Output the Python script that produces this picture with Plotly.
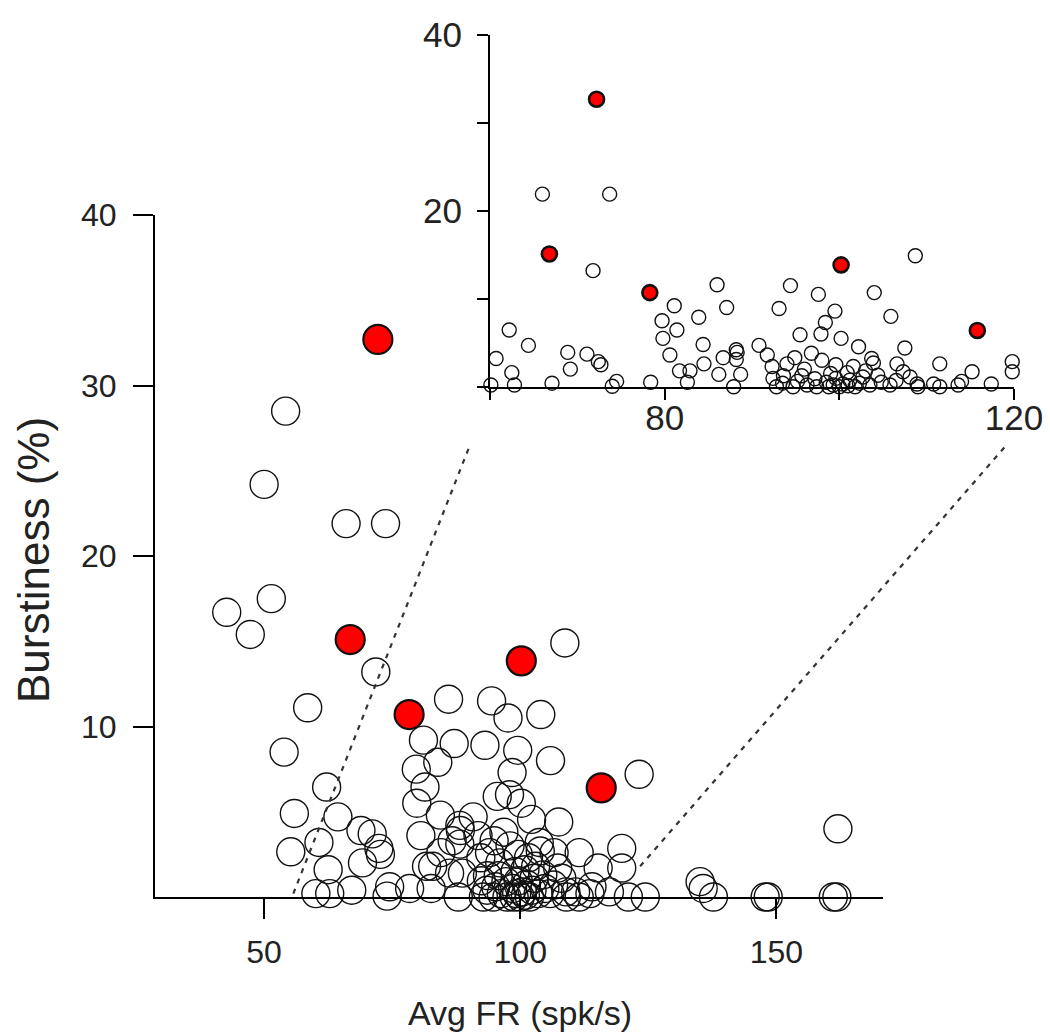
import numpy as np
import plotly.graph_objects as go

# ---------------- data ----------------
red_fr = [72.2, 66.8, 78.3, 100.2, 115.8]
red_burst = [32.7, 15.1, 10.7, 13.85, 6.4]

open_fr = [
    42.7, 47.3, 50.0, 51.4, 54.2, 53.9, 55.9, 55.2, 58.5,
    60.1, 60.7, 62.2, 62.5, 62.8, 64.4, 66.0, 73.7, 71.8, 67.1,
    68.9, 69.2, 71.1, 72.4, 72.7, 74.0, 74.5, 78.4, 79.7, 79.8,
    81.1, 81.4, 80.6, 83.9, 84.4, 81.7, 82.9, 82.6, 84.5, 86.0,
    87.1, 86.2, 86.7, 88.2, 88.3, 88.2, 88.7, 87.9,
    94.4, 97.6, 104.0, 108.7, 93.1, 99.5, 105.9, 98.4, 97.9, 95.5,
    100.2, 102.2, 107.5, 90.8, 91.75, 94.9, 98.0, 92.3, 103.7, 103.9,
    106.6, 111.5, 99.6, 101.6, 107.3, 115.2, 119.8, 119.8, 92.4, 93.6,
    95.7, 97.2, 99.6, 101.2, 102.7, 104.4, 108.1, 92.8, 94.7, 97.4,
    99.3, 101.8, 105.8, 108.9, 109.0, 110.8, 111.5, 113.6, 114.0, 117.4,
    93.5, 95.2, 96.3, 98.5, 100.4, 100.9, 102.3, 103.5, 96.0, 99.0,
    104.8, 98.8, 100.0, 101.0, 103.0, 106.5, 94.0, 96.8,
    123.2, 121.1, 124.4, 135.1, 135.7, 137.7, 147.8, 148.4, 161.1, 161.8, 162.0,
]
open_burst = [
    16.7, 15.4, 24.2, 17.5, 28.5, 8.5, 4.9, 2.65, 11.1,
    0.2, 3.2, 6.45, 1.6, 0.2, 4.7, 21.9, 21.9, 13.2, 0.4,
    3.9, 2.0, 3.7, 2.85, 2.5, 0.05, 0.6, 0.5, 7.5, 5.5,
    9.2, 6.45, 3.6, 7.9, 4.8, 1.8, 1.8, 0.5, 2.6, 11.6,
    9.0, 1.4, 3.3, 4.2, 3.9, 3.1, 1.4, 0.0,
    11.5, 10.5, 10.7, 14.9, 8.9, 8.6, 8.0, 7.3, 6.0, 5.9,
    5.5, 4.55, 4.4, 4.7, 3.6, 3.3, 3.0, 2.3, 3.2, 2.7,
    2.6, 2.6, 2.5, 2.3, 1.7, 1.7, 2.85, 1.7, 0.95, 1.25,
    1.25, 0.9, 0.95, 0.75, 1.1, 1.3, 1.1, 0.0, 0.0, 0.0,
    0.2, 0.0, 0.2, 0.3, 0.0, 0.3, 0.0, 0.2, 0.6, 0.3,
    0.4, 0.6, 0.2, 0.5, 0.3, 1.6, 0.4, 0.2, 2.0, 1.5,
    0.5, 0.0, 0.0, 0.1, 1.8, 0.7, 2.6, 3.8,
    7.2, 0.0, 0.0, 0.9, 0.5, 0.0, 0.0, 0.0, 0.0, 0.0, 4.0,
]

main_xticks = [50, 100, 150]
main_yticks = [10, 20, 30, 40]
inset_xticks = [60, 80, 100, 120]
inset_xticktext = ["", "80", "", "120"]
inset_yticks = [0, 10, 20, 30, 40]
inset_yticktext = ["", "", "20", "", "40"]

# zoom guide lines: lower ends in main-axis units, upper ends in inset-axis units
guide_low = [(55.7, 0.2), (123.4, 1.8)]
guide_high = [(57.6, -6.9), (118.9, -6.9)]

# ---------------- layout geometry ----------------
W, H = 1050, 1035
MAIN_X = [28.7, 170.8]
MAIN_Y = [0, 40]
INS_X = [60, 120]
INS_Y = [0, 40]
main_dx = [155 / W, 883 / W]
main_dy = [1 - 897 / H, 1 - 215 / H]
ins_dx = [490 / W, 1014 / W]
ins_dy = [1 - 386.7 / H, 1 - 35 / H]


def to_paper(v, rng, dom):
    return dom[0] + (v - rng[0]) / (rng[1] - rng[0]) * (dom[1] - dom[0])


FONT = "Liberation Sans, Arial, sans-serif"

fig = go.Figure()

# main panel
fig.add_trace(go.Scatter(
    x=open_fr, y=open_burst, mode="markers", xaxis="x", yaxis="y",
    marker=dict(size=28, color="rgba(0,0,0,0)", line=dict(color="#111", width=1.4)),
    cliponaxis=False, showlegend=False))
fig.add_trace(go.Scatter(
    x=red_fr, y=red_burst, mode="markers", xaxis="x", yaxis="y",
    marker=dict(size=29, color="#ff0000", line=dict(color="#111", width=2.2)),
    cliponaxis=False, showlegend=False))

# inset panel (same data, zoomed)
ofr = np.array(open_fr)
obu = np.array(open_burst)
m = (ofr >= INS_X[0]) & (ofr <= INS_X[1])
fig.add_trace(go.Scatter(
    x=ofr[m], y=obu[m], mode="markers", xaxis="x2", yaxis="y2",
    marker=dict(size=14, color="rgba(0,0,0,0)", line=dict(color="#111", width=1.4)),
    cliponaxis=False, showlegend=False))
fig.add_trace(go.Scatter(
    x=red_fr, y=red_burst, mode="markers", xaxis="x2", yaxis="y2",
    marker=dict(size=15, color="#ff0000", line=dict(color="#111", width=2.6)),
    cliponaxis=False, showlegend=False))

shapes = []
for (lx, ly), (hx, hy) in zip(guide_low, guide_high):
    shapes.append(dict(
        type="line", xref="paper", yref="paper",
        x0=to_paper(lx, MAIN_X, main_dx), y0=to_paper(ly, MAIN_Y, main_dy),
        x1=to_paper(hx, INS_X, ins_dx), y1=to_paper(hy, INS_Y, ins_dy),
        line=dict(color="#333", width=2.2, dash="5px,6px")))

axis_common = dict(showgrid=False, zeroline=False, showline=True, linecolor="black",
                   linewidth=2, ticks="outside", tickcolor="black", tickwidth=2,
                   automargin=False, fixedrange=True)
main_font = dict(family=FONT, size=32, color="#222")
inset_font = dict(family=FONT, size=35, color="#222")

fig.update_layout(
    width=W, height=H, margin=dict(l=0, r=0, t=0, b=0, pad=0, autoexpand=False),
    autosize=False,
    paper_bgcolor="white", plot_bgcolor="rgba(0,0,0,0)",
    xaxis=dict(domain=main_dx, range=MAIN_X, tickvals=main_xticks, ticklen=20,
               ticklabelstandoff=6, anchor="y", tickfont=main_font, **axis_common),
    yaxis=dict(domain=main_dy, range=MAIN_Y, tickvals=main_yticks, ticklen=20,
               ticklabelstandoff=10, anchor="x", tickfont=main_font, **axis_common),
    xaxis2=dict(domain=ins_dx, range=INS_X, tickvals=inset_xticks, ticktext=inset_xticktext,
                ticklen=11, ticklabelstandoff=-12, anchor="y2", tickfont=inset_font, **axis_common),
    yaxis2=dict(domain=ins_dy, range=INS_Y, tickvals=inset_yticks, ticktext=inset_yticktext,
                ticklen=11, ticklabelstandoff=8, anchor="x2", tickfont=inset_font, **axis_common),
    shapes=shapes,
    annotations=[
        dict(text="Avg FR (spk/s)", xref="paper", yref="paper",
             x=to_paper(100, MAIN_X, main_dx), y=1 - 1013 / H, xanchor="center", yanchor="middle",
             showarrow=False, font=dict(family=FONT, size=34, color="#222")),
        dict(text="Burstiness (%)", xref="paper", yref="paper", textangle=-90,
             x=33 / W, y=1 - 560 / H, xanchor="center", yanchor="middle",
             showarrow=False, font=dict(family=FONT, size=44, color="#222")),
    ],
)

fig.write_html(
    "out.html",
    config={"displayModeBar": False, "responsive": False},
    post_script="document.body.style.margin='0';document.body.style.overflow='hidden';",
)
